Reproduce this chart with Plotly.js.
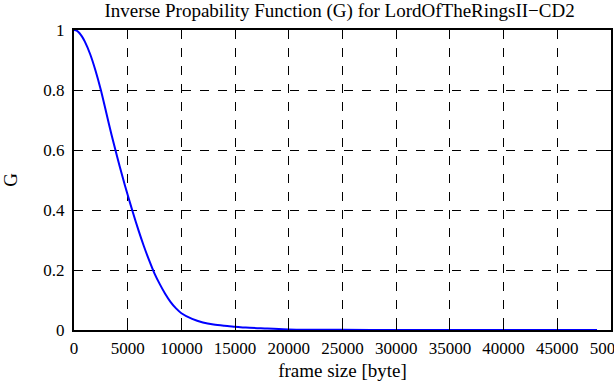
<!DOCTYPE html>
<html>
<head>
<meta charset="utf-8">
<script src="https://cdn.plot.ly/plotly-3.0.1.min.js"></script>
<style>html,body{margin:0;padding:0;background:#fff;}#chart{width:614px;height:385px;}</style>
</head>
<body>
<div id="chart"></div>
<script>
var frameSize = [0, 250, 500, 750, 1000, 1500, 2000, 2500, 3000, 3500, 4000, 4500, 5000, 5500, 6000, 6500, 7000, 7500, 8000, 8500, 9000, 9500, 10000, 11000, 12000, 13000, 14000, 15000, 16000, 18000, 20000, 22000, 25000, 30000, 35000, 40000, 45000, 48700];
var G = [1.0, 0.998, 0.99, 0.978, 0.962, 0.92, 0.865, 0.80, 0.725, 0.65, 0.58, 0.513, 0.45, 0.39, 0.333, 0.28, 0.232, 0.188, 0.152, 0.12, 0.093, 0.072, 0.056, 0.037, 0.025, 0.018, 0.014, 0.011, 0.008, 0.005, 0.002, 0.001, 0.0005, 0.0002, 0.0001, 0.00005, 0.00002, 0];
var xTicks = [0, 5000, 10000, 15000, 20000, 25000, 30000, 35000, 40000, 45000, 50000];
var yTicks = [0, 0.2, 0.4, 0.6, 0.8, 1];
var yTickLabels = ["0", "0.2", "0.4", "0.6", "0.8", "1"];

var fam = "Liberation Serif, Times New Roman, serif";
var tickFont = {family: fam, size: 17, color: "#000"};
var titleFont = {family: fam, size: 19, color: "#000"};
var trace = {x: frameSize, y: G, type: "scatter", mode: "lines", line: {color: "#0000ff", width: 2, shape: "spline", smoothing: 0.8}, hoverinfo: "none"};
var axisCommon = {
  showline: true, linecolor: "#000", linewidth: 2, mirror: "ticks",
  ticks: "inside", ticklen: 6, tickwidth: 1, tickcolor: "#000",
  showgrid: true, gridcolor: "#000", gridwidth: 1, griddash: "dash",
  zeroline: false, tickfont: tickFont, ticklabeloverflow: "allow"
};
var layout = {
  width: 614, height: 385,
  margin: {l: 74, r: 3, t: 30, b: 55},
  paper_bgcolor: "#fff", plot_bgcolor: "#fff",
  showlegend: false,
  font: tickFont,
  title: {text: "Inverse Propability Function (G) for LordOfTheRingsII\u2212CD2", font: titleFont, x: 0.553, xanchor: "center", y: 0.972, yanchor: "middle"},
  xaxis: Object.assign({}, axisCommon, {range: [0, 50000], tickvals: xTicks, ticktext: xTicks.map(String), ticklabelstandoff: 2, title: {text: "frame size [byte]", font: titleFont, standoff: 6}}),
  yaxis: Object.assign({}, axisCommon, {range: [0, 1], tickvals: yTicks, ticktext: yTickLabels, ticklabelstandoff: 4, title: {text: "G", font: titleFont, standoff: 22}})
};
Plotly.newPlot("chart", [trace], layout, {staticPlot: true, displayModeBar: false});
</script>
</body>
</html>
